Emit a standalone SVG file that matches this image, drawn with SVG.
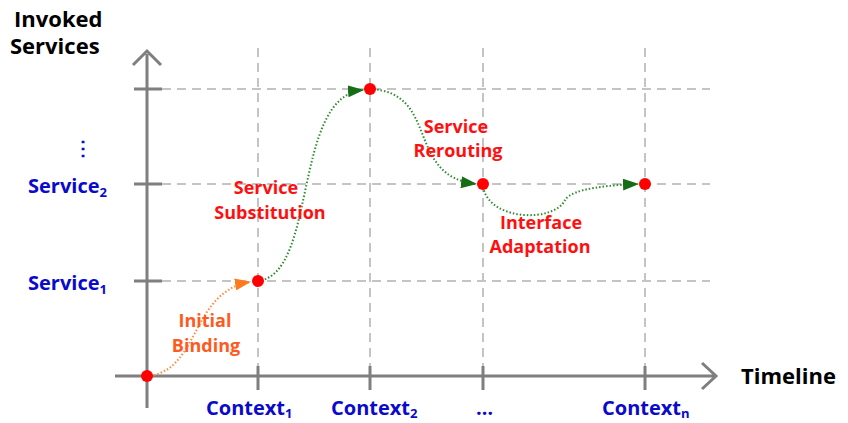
<svg xmlns="http://www.w3.org/2000/svg" width="848" height="423" viewBox="0 0 848 423">
<style>
text{font-family:"Open Sans","Liberation Sans",sans-serif;font-weight:700}
.ax{stroke:#7f7f7f;stroke-width:3;fill:none}
.grid{stroke:#c4c4c4;stroke-width:2;stroke-dasharray:9,6;fill:none}
.blue{fill:#0a0acc;font-size:20px}
.red{fill:#ff1010;font-size:18px;text-anchor:middle}
.org{fill:#ff5a1e;font-size:18px;text-anchor:middle}
.blk{fill:#000;font-size:22px}
.g{stroke:#2e8b2e;stroke-width:2;stroke-dasharray:1.5,2;fill:none}
.o{stroke:#ff8a3c;stroke-width:2;stroke-dasharray:1.5,2;fill:none}
.dot{fill:#ff0000}
</style>
<defs>
<marker id="ag" viewBox="0 0 16 12" refX="15" refY="6" markerWidth="16" markerHeight="12" markerUnits="userSpaceOnUse" orient="auto"><path d="M0,0 L16,6 L0,12 Z" fill="#156d15"/></marker>
<marker id="ao" viewBox="0 0 16 12" refX="15" refY="6" markerWidth="16" markerHeight="12" markerUnits="userSpaceOnUse" orient="auto"><path d="M0,0 L16,6 L0,12 Z" fill="#ff7a1e"/></marker>
</defs>
<g id="grid">
<path class="grid" d="M162,89 H710 M162,184 H710 M162,281 H710"/>
<path class="grid" d="M258,48 V366 M370,48 V366 M483,48 V366 M645,48 V366"/>
</g>
<g id="axes">
<path class="ax" d="M147,408 V54 M133,65 L147,51 L161,65"/>
<path class="ax" d="M115,376 H714 M702,363 L716,376 L702,389"/>
<path class="ax" d="M134,89 H162 M134,184 H162 M134,281 H162"/>
<path class="ax" d="M258,366 V390 M370,366 V390 M483,366 V390 M645,366 V390"/>
</g>
<g id="connectors">
<path class="o" d="M147,376 C200,372 190,292 250,282" marker-end="url(#ao)"/>
<path class="g" d="M258,281 C318,274 292,96 363,90" marker-end="url(#ag)"/>
<path class="g" d="M370,89 C440,92 405,176 476,184" marker-end="url(#ag)"/>
<path class="g" d="M483,187 C490,222 555,222 565,200 C572,188 612,185 638,184" marker-end="url(#ag)"/>
</g>
<g id="points">
<circle class="dot" cx="147" cy="376" r="6"/>
<circle class="dot" cx="258" cy="281" r="6"/>
<circle class="dot" cx="370" cy="89" r="6"/>
<circle class="dot" cx="483" cy="184" r="6"/>
<circle class="dot" cx="645" cy="184" r="6"/>
</g>
<g id="ylabels">
<text class="blk" x="14" y="27">Invoked</text>
<text class="blk" x="10" y="54">Services</text>
<text class="blue" x="73" y="155">⋮</text>
<text class="blue" x="28" y="193">Service<tspan font-size="13" dy="4">2</tspan></text>
<text class="blue" x="28" y="290">Service<tspan font-size="13" dy="4">1</tspan></text>
</g>
<g id="xlabels">
<text class="blue" x="206" y="415">Context<tspan font-size="13" dy="3">1</tspan></text>
<text class="blue" x="331" y="415">Context<tspan font-size="13" dy="3">2</tspan></text>
<text class="blue" x="476" y="415">…</text>
<text class="blue" x="602" y="415">Context<tspan font-size="13" dy="3">n</tspan></text>
<text class="blk" x="741" y="384">Timeline</text>
</g>
<g id="labels">
<text class="org" x="205" y="327">Initial</text>
<text class="org" x="206" y="352">Binding</text>
<text class="red" x="266" y="194">Service</text>
<text class="red" x="270" y="219">Substitution</text>
<text class="red" x="456" y="133">Service</text>
<text class="red" x="458" y="157">Rerouting</text>
<text class="red" x="541" y="229">Interface</text>
<text class="red" x="540" y="253">Adaptation</text>
</g>
</svg>
